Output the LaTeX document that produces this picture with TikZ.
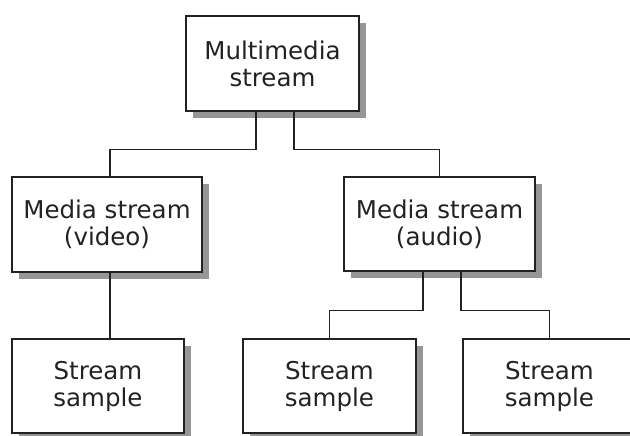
\documentclass[tikz,border=0pt]{standalone}
\usepackage{fontspec}
\setmainfont{DejaVu Sans}
\usetikzlibrary{shadows}
\definecolor{shadowgray}{RGB}{150,150,150}
\definecolor{ink}{RGB}{34,34,34}
\tikzset{
  box/.style={draw=ink, line width=1.8pt, fill=white, inner sep=0pt, align=center,
    text=ink, font=\fontsize{24.5}{27}\selectfont,
    drop shadow={shadow xshift=7pt, shadow yshift=-7pt, fill=shadowgray, opacity=1}},
  link/.style={draw=ink, line width=1.8pt}
}
\begin{document}
\begin{tikzpicture}[x=1pt,y=-1pt]
\useasboundingbox (0,0) rectangle (630,436);
\clip (0,0) rectangle (630,436);
\fill[white] (0,0) rectangle (630,436);
\node[box, minimum width=173pt, minimum height=95pt] (top) at (272.5,63.5) {Multimedia\\stream};
\node[box, minimum width=190pt, minimum height=95pt] (ml) at (107,224.5) {Media stream\\(video)};
\node[box, minimum width=191pt, minimum height=94pt] (mr) at (439.5,224) {Media stream\\(audio)};
\node[box, minimum width=172pt, minimum height=94pt] (bl) at (98,386) {Stream\\sample};
\node[box, minimum width=173pt, minimum height=94pt] (bm) at (329.5,386) {Stream\\sample};
\node[box, minimum width=173pt, minimum height=94pt] (br) at (549.5,386) {Stream\\sample};
\draw[link] ([xshift=-16.5pt]top.south) -- ++(0,37.5) -| ([xshift=3pt]ml.north);
\draw[link] ([xshift=21.5pt]top.south) -- ++(0,37.5) -| (mr.north);
\draw[link] ([xshift=3pt]ml.south) -- ([xshift=12pt]bl.north);
\draw[link] ([xshift=-16.5pt]mr.south) -- ++(0,38.5) -| (bm.north);
\draw[link] ([xshift=21.5pt]mr.south) -- ++(0,38.5) -| (br.north);
\end{tikzpicture}
\end{document}
